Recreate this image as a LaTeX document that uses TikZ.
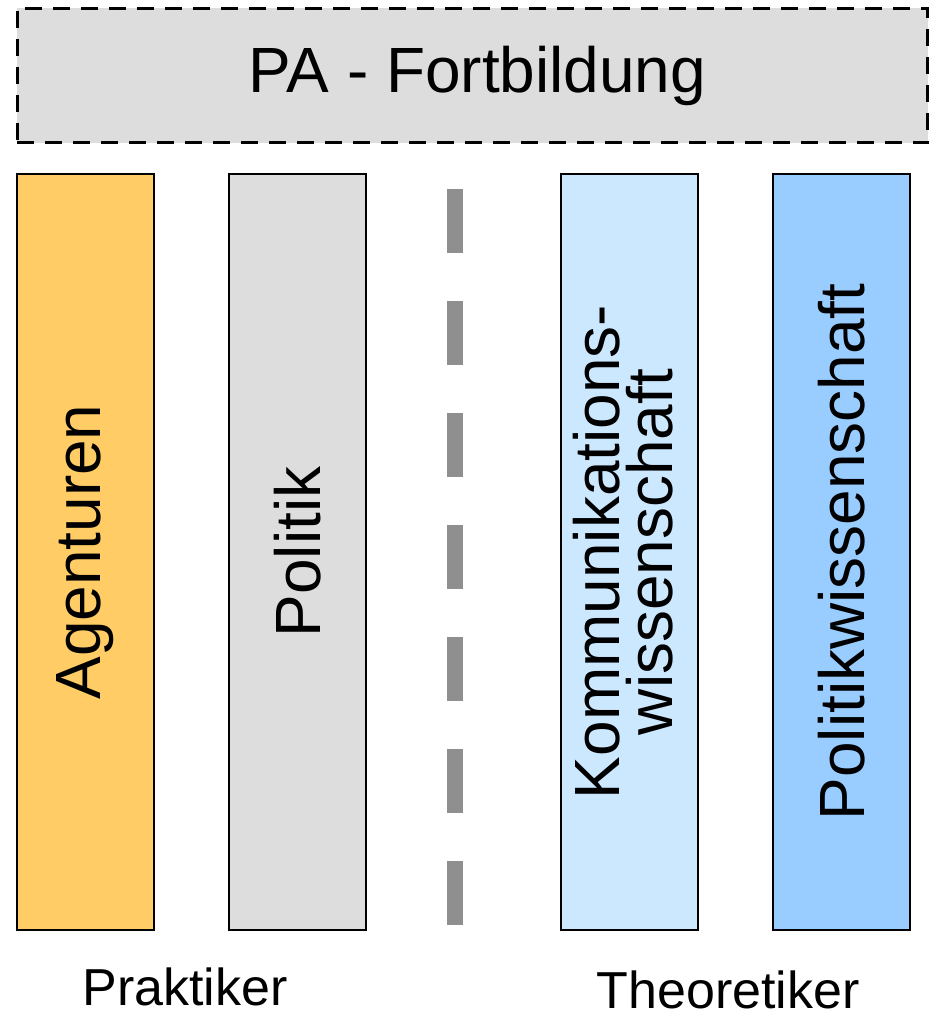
\documentclass[tikz,border=0pt]{standalone}
\usepackage{fontspec}
\setmainfont{Liberation Sans}
\usepackage{tikz}

\definecolor{topgray}{HTML}{DDDDDD}
\definecolor{agenturorange}{HTML}{FFCC66}
\definecolor{politikgray}{HTML}{DDDDDD}
\definecolor{kommblue}{HTML}{CCE8FF}
\definecolor{pwblue}{HTML}{99CCFF}
\definecolor{sepgray}{HTML}{8F8F8F}

\tikzset{
  column/.style={draw=black, line width=1.2pt, rotate=90, inner sep=0pt,
    minimum width=15.12cm, minimum height=2.74cm, align=center,
    font=\fontsize{36.4}{30}\selectfont},
  groupname/.style={anchor=base, inner sep=0pt, font=\fontsize{29.6}{34}\selectfont},
}

\begin{document}
\begin{tikzpicture}[x=0.02cm, y=-0.02cm]
  \useasboundingbox (0,0) rectangle (929,1014);

  \node[draw=black, line width=1.7pt, dash pattern=on 0.34cm off 0.22cm,
        fill=topgray, minimum width=18.22cm, minimum height=2.7cm, inner xsep=0pt,
        font=\fontsize{36.4}{42}\selectfont] (fortbildung) at (472.5,75.5) {\hspace{0.2cm}PA - Fortbildung};

  \begin{scope}
    \node[column, fill=agenturorange] (agenturen) at (85.5,552) {Agenturen};
    \node[column, fill=politikgray] (politik) at (297.5,552) {Politik};
    \node[column, fill=kommblue] (kommwiss) at (629.5,552) {Kommunikations-\\wissenschaft\vphantom{g}};
    \node[column, fill=pwblue] (polwiss) at (841.5,552) {Politikwissenschaft};
  \end{scope}

  \coordinate (sepTop) at (455,189);
  \coordinate (sepBot) at (455,925);
  \draw[sepgray, line width=0.32cm, dash pattern=on 1.28cm off 0.96cm] (sepTop) -- (sepBot);

  \node[groupname] (praktiker) at (185,1005) {Praktiker};
  \node[groupname] (theoretiker) at (728,1008) {Theoretiker};
\end{tikzpicture}
\end{document}
